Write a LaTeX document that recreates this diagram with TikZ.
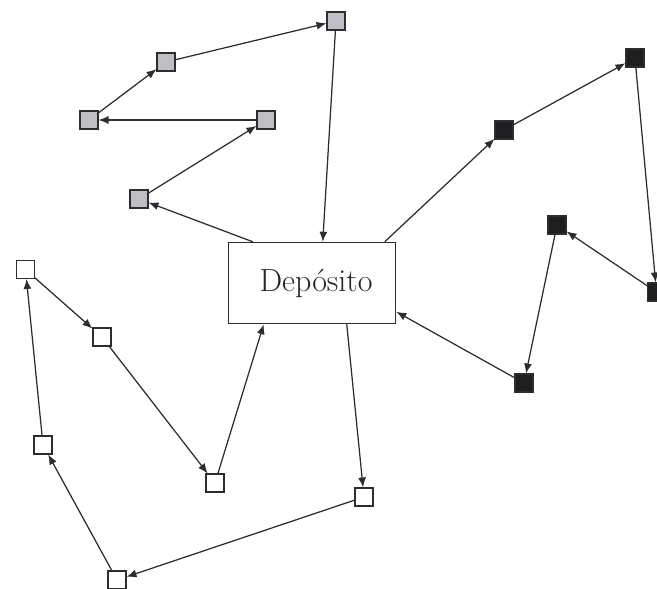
\documentclass[tikz,border=0pt]{standalone}
\usetikzlibrary{arrows.meta}
\definecolor{stopgray}{RGB}{190,191,196}
\definecolor{stopblack}{RGB}{30,30,32}
\definecolor{ink}{RGB}{45,45,48}
\begin{document}
\begin{tikzpicture}[x=1pt,y=-1pt,
  stopbox/.style={draw=ink, line width=1.4pt, minimum size=18pt, inner sep=0pt, outer sep=0.5pt},
  graystop/.style={stopbox, fill=stopgray},
  blackstop/.style={stopbox, fill=stopblack},
  whitestop/.style={stopbox, fill=white},
  route/.style={draw=ink, line width=1.25pt, -{Latex[length=10pt,width=8pt]}},
  depot/.style={draw=ink, line width=1.5pt, minimum width=167pt, minimum height=81pt,
    inner sep=0pt, font=\fontsize{32}{38}\selectfont, text=black!85}]
\useasboundingbox (0,0) rectangle (657,589);
\clip (0,0) rectangle (657,589);

% depot
\node[depot] (dep) at (312,283) {\hspace*{8pt}Depósito};

% gray route stops
\node[graystop] (g1) at (336,21) {};
\node[graystop] (g2) at (166,62) {};
\node[graystop] (g3) at (89,120) {};
\node[graystop] (g4) at (266,120) {};
\node[graystop] (g5) at (139,199) {};

% black route stops
\node[blackstop] (b1) at (504,130) {};
\node[blackstop] (b2) at (635,58) {};
\node[blackstop] (b3) at (656.5,292) {};
\node[blackstop] (b4) at (557,225) {};
\node[blackstop] (b5) at (524,383) {};

% white route stops
\node[whitestop] (w1) at (25.5,269.5) {};
\node[whitestop] (w2) at (102,337) {};
\node[whitestop] (w3) at (215,483) {};
\node[whitestop] (w4) at (364,497) {};
\node[whitestop] (w5) at (117,580) {};
\node[whitestop] (w6) at (43,445) {};

% gray route
\draw[route] ([xshift=25pt]dep.north west) -- (g5);
\draw[route] (g5) -- (g4);
\draw[route] (g4) -- (g3);
\draw[route] (g3) -- (g2);
\draw[route] (g2) -- (g1);
\draw[route] (g1) -- ([xshift=95pt]dep.north west);

% black route
\draw[route] ([xshift=157pt]dep.north west) -- (b1);
\draw[route] (b1) -- (b2);
\draw[route] (b2) -- (b3);
\draw[route] (b3) -- (b4);
\draw[route] (b4) -- (b5);
\draw[route] (b5) -- ([yshift=-70pt]dep.north east);

% white route
\draw[route] ([xshift=119pt]dep.south west) -- (w4);
\draw[route] (w4) -- (w5);
\draw[route] (w5) -- (w6);
\draw[route] (w6) -- (w1);
\draw[route] (w1) -- (w2);
\draw[route] (w2) -- (w3);
\draw[route] (w3) -- ([xshift=36pt]dep.south west);
\end{tikzpicture}
\end{document}
